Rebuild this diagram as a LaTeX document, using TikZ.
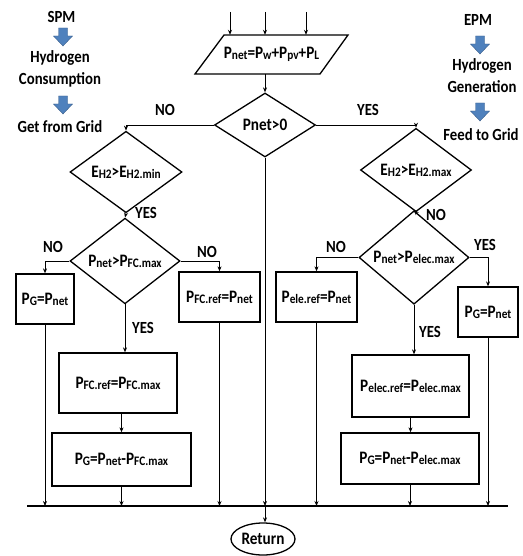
\documentclass[tikz,border=0pt]{standalone}
\usepackage{fontspec}
\setmainfont{Carlito}[FakeStretch=0.87, BoldFeatures={FakeStretch=0.87}]
\usetikzlibrary{shapes.geometric,arrows.meta}
\newcommand{\sbx}[1]{\raisebox{-0.8pt}{\fontsize{13}{13}\selectfont #1}}
\definecolor{arrblue}{RGB}{79,129,189}
\definecolor{arrblueedge}{RGB}{56,93,138}
\begin{document}
\begin{tikzpicture}[x=1pt,y=-1pt,
  every node/.style={font=\bfseries\fontsize{17.5}{21}\selectfont, inner sep=0pt},
  boxnode/.style={draw, line width=1.3pt, rectangle},
  decision/.style={draw, line width=1.3pt, diamond},
  lbl/.style={font=\bfseries\fontsize{17}{21}\selectfont},
  sidetext/.style={font=\bfseries\fontsize{17}{22}\selectfont, align=center},
  arr/.style={line width=0.8pt, -{Stealth[length=5pt,width=4pt]}},
  bluearrow/.pic={\filldraw[fill=arrblue, draw=arrblueedge, line width=0.4pt]
     (-4.5,0) -- (4.5,0) -- (4.5,8) -- (9.5,8) -- (0,18) -- (-9.5,8) -- (-4.5,8) -- cycle;}
]
\useasboundingbox (0,0) rectangle (522,556);

% side notes
\node[sidetext] (spm) at (61.5,17) {SPM};
\pic at (63,28) {bluearrow};
\node[sidetext] (hc) at (60,69) {Hydrogen\\Consumption};
\pic at (63,96) {bluearrow};
\node[sidetext] (gfg) at (60,127) {Get from Grid};

\node[sidetext] (epm) at (478,20) {EPM};
\pic at (480,36) {bluearrow};
\node[sidetext] (hg) at (482,76) {Hydrogen\\Generation};
\pic at (480,103) {bluearrow};
\node[sidetext] (ftg) at (481,135) {Feed to Grid};

% input (parallelogram drawn around a text node)
\node[minimum height=39pt] (inp) at (271.5,54.5)
      {P\sbx{net}=P\sbx{w}+P\sbx{pv}+P\sbx{L}};
\draw[line width=1.3pt] ([shift={(-76.5,19.5)}]inp.center) -- ([shift={(-47.5,-19.5)}]inp.center)
   -- ([shift={(76.5,-19.5)}]inp.center) -- ([shift={(48.5,19.5)}]inp.center) -- cycle;
\coordinate (t1) at (230,12);
\coordinate (t2) at (265,12);
\coordinate (t3) at (306,12);
\draw[arr] (t1) -- (t1 |- inp.north);
\draw[arr] (t2) -- (t2 |- inp.north);
\draw[arr] (t3) -- (t3 |- inp.north);

% decisions
\node[decision, minimum width=101pt, minimum height=64pt] (d0) at (265,125) {Pnet>0};
\node[decision, minimum width=112pt, minimum height=70pt] (de1) at (126,172) {E\sbx{H2}>E\sbx{H2.min}};
\node[decision, minimum width=110pt, minimum height=66pt] (dp1) at (125,261) {P\sbx{net}>P\sbx{FC.max}};
\node[decision, minimum width=111pt, minimum height=68pt] (de2) at (416,170) {E\sbx{H2}>E\sbx{H2.max}};
\node[decision, minimum width=110pt, minimum height=67pt] (dp2) at (414,257.5) {P\sbx{net}>P\sbx{elec.max}};

% boxes
\node[boxnode, minimum width=58pt, minimum height=50pt] (pg1) at (45,299) {P\sbx{G}=P\sbx{net}};
\node[boxnode, minimum width=81pt, minimum height=50pt] (fcref) at (219.5,297) {P\sbx{FC.ref}=P\sbx{net}};
\node[boxnode, minimum width=118pt, minimum height=60pt] (fcmax) at (118,383) {P\sbx{FC.ref}=P\sbx{FC.max}};
\node[boxnode, minimum width=139pt, minimum height=53pt] (pgfc) at (121.5,459.5) {P\sbx{G}=P\sbx{net}-P\sbx{FC.max}};
\node[boxnode, minimum width=81pt, minimum height=50pt] (eleref) at (316.5,297) {P\sbx{ele.ref}=P\sbx{net}};
\node[boxnode, minimum width=60pt, minimum height=50pt] (pg2) at (488,312) {P\sbx{G}=P\sbx{net}};
\node[boxnode, minimum width=117pt, minimum height=62pt] (elecmax) at (410.5,386) {P\sbx{elec.ref}=P\sbx{elec.max}};
\node[boxnode, minimum width=138pt, minimum height=51pt] (pge) at (410,458.5) {P\sbx{G}=P\sbx{net}-P\sbx{elec.max}};

\node[draw, ellipse, line width=1.3pt, minimum width=64pt, minimum height=32pt] (ret) at (263,539) {Return};

% bottom line
\coordinate (bl) at (27,506);
\coordinate (br) at (508,506);
\draw[line width=1.4pt] (bl) -- (br);

% connectors
\draw[arr] (inp.south -| d0.north) -- (d0.north);
\draw[arr] (d0.west) -| (de1.north);
\draw[arr] (d0.east) -| (de2.north);
\draw[arr] (de1.south) -- (dp1.north);
\draw[arr] (de2.south) -- (dp2.north);
\draw[arr] (dp1.west) -| (pg1.north);
\draw[arr] (dp1.east) -| (fcref.north);
\draw[arr] (dp1.south) -- (dp1.south |- fcmax.north);
\draw[arr] (fcmax.south -| pgfc.north) -- (pgfc.north);
\draw[arr] (dp2.west) -| (eleref.north);
\draw[arr] (dp2.east) -| (pg2.north);
\draw[arr] (dp2.south) -- (dp2.south |- elecmax.north);
\draw[arr] (elecmax.south) -- (elecmax.south |- pge.north);

\draw[arr] (pg1.south) -- (pg1.south |- bl);
\draw[arr] (pgfc.south) -- (pgfc.south |- bl);
\draw[arr] (fcref.south) -- (fcref.south |- bl);
\draw[arr] (eleref.south) -- (eleref.south |- bl);
\draw[arr] (pge.south) -- (pge.south |- bl);
\draw[arr] (pg2.south) -- (pg2.south |- bl);
\coordinate (mid) at (d0.south |- bl);
\draw[arr] (d0.south) -- (mid);
\draw[arr] (mid) -- (mid |- ret.north);

% labels
\node[lbl] (no1) at (165,110) {NO};
\node[lbl] (yes1) at (368,110) {YES};
\node[lbl] (yes2) at (146,213) {YES};
\node[lbl] (no2) at (53,247) {NO};
\node[lbl] (no3) at (207,252) {NO};
\node[lbl] (yes3) at (143,328) {YES};
\node[lbl] (no4) at (436,215) {NO};
\node[lbl] (no5) at (336,247) {NO};
\node[lbl] (yes4) at (485,245) {YES};
\node[lbl] (yes5) at (430,332) {YES};
\end{tikzpicture}
\end{document}
